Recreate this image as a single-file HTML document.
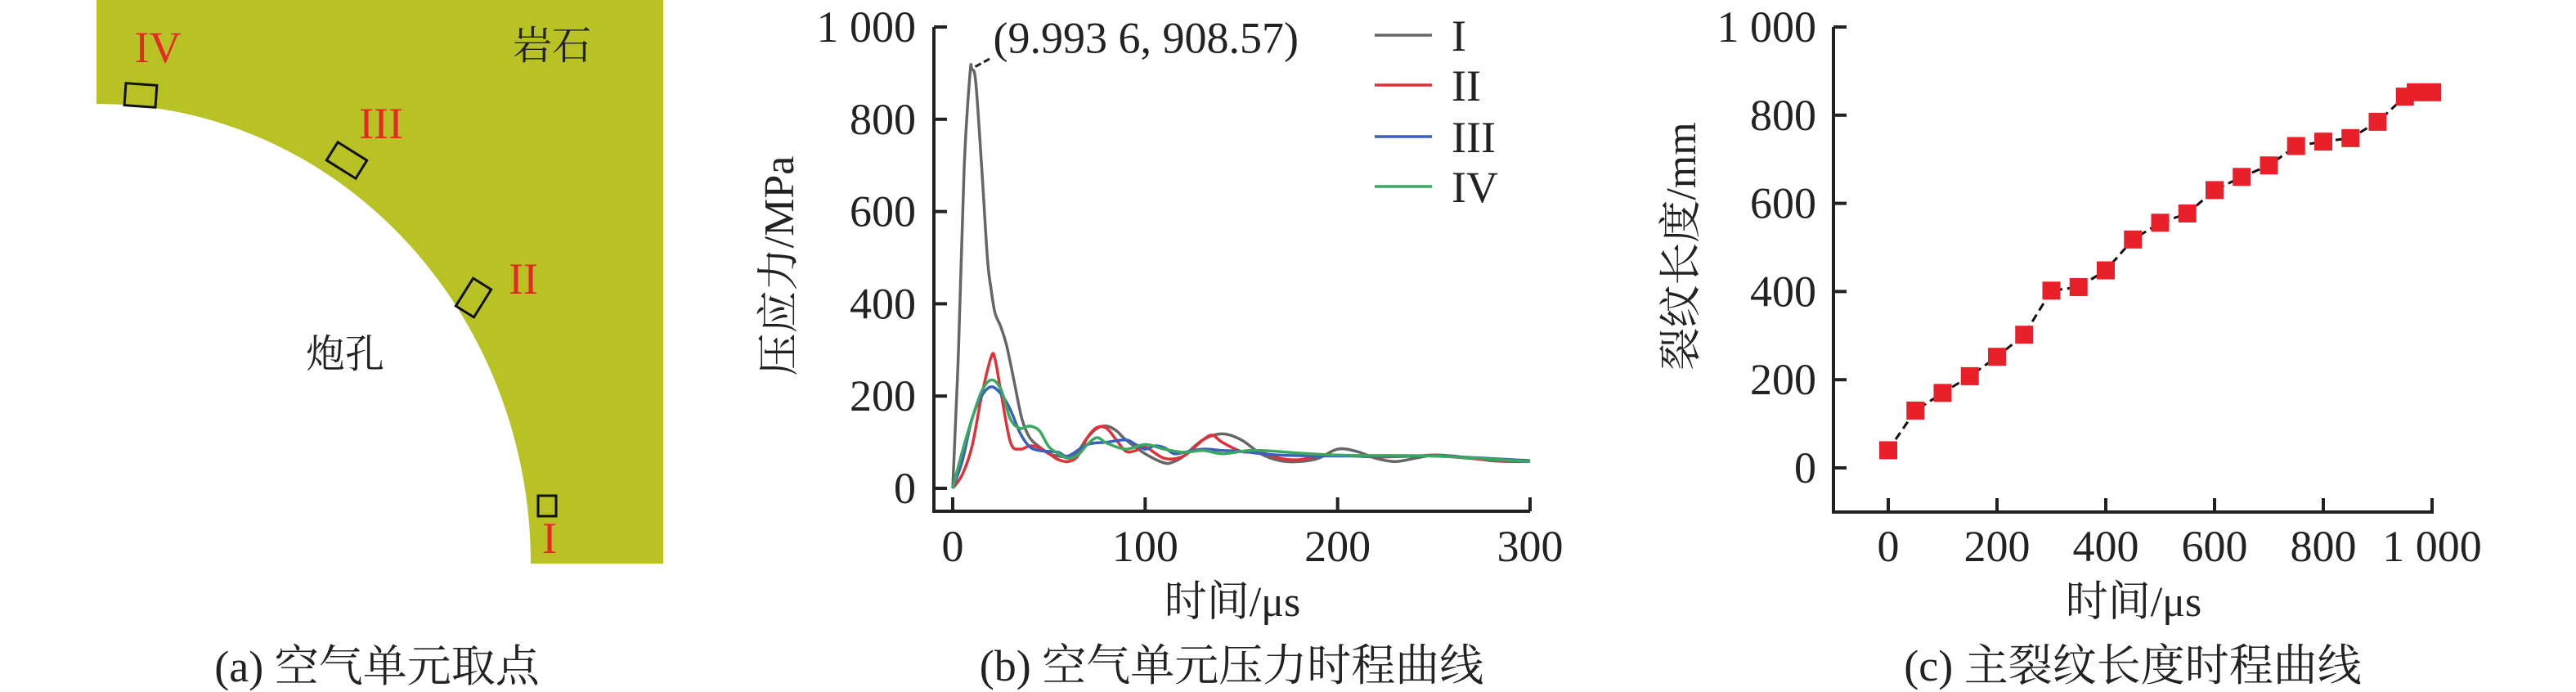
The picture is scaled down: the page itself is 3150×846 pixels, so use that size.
<!DOCTYPE html>
<html><head><meta charset="utf-8">
<style>
html,body{margin:0;padding:0;background:#fff;}
svg{display:block;font-family:"Liberation Serif","Noto Serif CJK SC",serif;}
</style></head>
<body>
<svg id="fig" width="3150" height="846" viewBox="0 0 3150 846" xmlns="http://www.w3.org/2000/svg">
<g>
  <rect x="118" y="0" width="693" height="689" fill="#b8c225"/>
  <path d="M118,127 A531,562 0 0 1 649,689 L118,689 Z" fill="#fff"/>
  <g fill="none" stroke="#111" stroke-width="3">
    <rect x="153" y="103" width="38" height="27" transform="rotate(4 172 116)"/>
    <rect x="403" y="183" width="42" height="26" transform="rotate(32 424 196)"/>
    <rect x="559" y="351" width="40" height="26" transform="rotate(-58 579 364)"/>
    <rect x="658" y="606" width="22" height="25"/>
  </g>
  <g fill="#e42a26" font-size="54" text-anchor="middle">
    <text x="193" y="76">IV</text>
    <text x="466" y="169">III</text>
    <text x="640" y="359">II</text>
    <text x="672" y="676">I</text>
  </g>
  <text x="675" y="72" font-size="48" text-anchor="middle" fill="#222">岩石</text>
  <text x="422" y="449" font-size="48" text-anchor="middle" fill="#222">炮孔</text>
  <text x="461" y="833" font-size="54" text-anchor="middle" fill="#222">(a) 空气单元取点</text>
</g>
<g id="pb"></g>
<g id="pc"></g>
</svg>
<script>
// ---- Panel b data ----
const bYTicks = [0, 200, 400, 600, 800, 1000];
const bYTickLabels = ["0", "200", "400", "600", "800", "1 000"];
const bXTicks = [0, 100, 200, 300];
const bXTickLabels = ["0", "100", "200", "300"];
const seriesNames = ["I", "II", "III", "IV"];
const tI = [0,3,6,9,10,12,15,18,20,22,25,28,32,36,40,45,50,55,60,65,70,75,80,85,90,100,110,115,120,130,140,150,160,170,180,190,200,210,220,230,240,250,260,270,280,290,300];
const vI = [0,300,700,900,908,880,700,500,430,380,350,310,230,150,110,90,75,70,68,80,110,130,135,125,105,75,55,58,70,105,118,105,75,60,58,65,85,80,65,58,65,72,70,65,60,58,58];
const tII = [0,5,10,15,20,22,25,30,35,40,45,50,55,60,65,70,75,80,85,90,95,100,110,120,130,135,140,150,160,170,180,190,200,220,240,250,260,280,300];
const vII = [0,30,90,200,285,280,210,100,85,92,88,75,62,58,70,110,132,130,105,80,82,90,65,70,105,115,100,80,78,65,62,70,72,68,70,72,68,62,58];
const tIII = [0,5,10,15,20,25,30,35,40,45,50,55,60,70,80,90,95,100,105,110,115,120,130,140,150,170,200,250,300];
const vIII = [0,60,150,200,220,205,170,120,90,82,80,78,70,95,100,105,95,85,92,88,75,78,85,82,80,72,70,70,60];
const tIV = [0,5,10,15,20,25,30,35,40,45,50,55,60,65,70,75,80,90,100,110,120,130,140,150,160,200,250,300];
const vIV = [0,80,150,210,235,215,150,130,135,125,90,75,65,72,95,110,98,85,95,85,78,82,75,80,82,72,70,58];
const peakX = 9.9936;
const peakY = 908.57;
// ---- Panel c data ----
const cTimes = [0,50,100,150,200,250,300,350,400,450,500,550,600,650,700,750,800,850,900,950,970,1000];
const cLengths = [40,130,170,208,252,302,402,410,448,518,556,577,630,660,686,730,740,748,785,842,852,852];
const cYTicks = [0, 200, 400, 600, 800, 1000];
const cYTickLabels = ["0", "200", "400", "600", "800", "1 000"];
const cXTicks = [0, 200, 400, 600, 800, 1000];
const cXTickLabels = ["0", "200", "400", "600", "800", "1 000"];

const NS = "http://www.w3.org/2000/svg";
function mk(parent, tag, attrs, txt){
  const e = document.createElementNS(NS, tag);
  for (const k in attrs) e.setAttribute(k, attrs[k]);
  if (txt !== undefined) e.textContent = txt;
  parent.appendChild(e);
  return e;
}
function smoothPath(pts){
  let d = "M" + pts[0][0].toFixed(1) + "," + pts[0][1].toFixed(1);
  for (let i = 0; i < pts.length - 1; i++){
    const p0 = pts[i-1] || pts[i], p1 = pts[i], p2 = pts[i+1], p3 = pts[i+2] || p2;
    const c1 = [p1[0] + (p2[0]-p0[0])/6, p1[1] + (p2[1]-p0[1])/6];
    const c2 = [p2[0] - (p3[0]-p1[0])/6, p2[1] - (p3[1]-p1[1])/6];
    d += " C" + c1[0].toFixed(1)+","+c1[1].toFixed(1)+" "+c2[0].toFixed(1)+","+c2[1].toFixed(1)+" "+p2[0].toFixed(1)+","+p2[1].toFixed(1);
  }
  return d;
}

(function(){
  const g = document.getElementById("pb");
  const bx = v => 1165 + v * (1871 - 1165) / 300;
  const by = v => 597 - v * (597 - 33) / 1000;
  const axis = mk(g, "path", {d: "M1142,33 L1142,625 L1871,625", fill: "none", stroke: "#222", "stroke-width": 4});
  
  
  bYTicks.forEach((v, i) => {
    const t = mk(g, "line", {x1: 1142, x2: 1158, y1: by(v), y2: by(v), stroke: "#222", "stroke-width": 4});
    
    
    const l = mk(g, "text", {x: 1120, y: by(v) + 18, "font-size": 54, "text-anchor": "end", fill: "#222"}, bYTickLabels[i]);
    
    
  });
  bXTicks.forEach((v, i) => {
    const t = mk(g, "line", {x1: bx(v), x2: bx(v), y1: 625, y2: 608, stroke: "#222", "stroke-width": 4});
    
    
    const l = mk(g, "text", {x: bx(v), y: 686, "font-size": 54, "text-anchor": "middle", fill: "#222"}, bXTickLabels[i]);
    
    
  });
  const xt = mk(g, "text", {x: 1507, y: 753, "font-size": 52, "text-anchor": "middle", fill: "#222"}, "时间/μs");
  
  
  const yt = mk(g, "text", {x: 0, y: 0, "font-size": 52, "text-anchor": "middle", fill: "#222", transform: "translate(970,325) rotate(-90)"}, "压应力/MPa");
  
  
  const cap = mk(g, "text", {x: 1506, y: 832, "font-size": 54, "text-anchor": "middle", fill: "#222"}, "(b) 空气单元压力时程曲线");
  
  

  const series = [[tI, vI], [tII, vII], [tIII, vIII], [tIV, vIV]];
  const colors = ["#666666", "#e0303a", "#3b5fbf", "#3aa860"];
  [0, 1, 2, 3].forEach(i => {
    const pts = series[i][0].map((t, k) => [bx(t), by(series[i][1][k])]);
    const p = mk(g, "path", {d: smoothPath(pts), fill: "none", stroke: colors[i], "stroke-width": 3.5, "stroke-linejoin": "round"});
    
    
    const ly = [43, 104, 167, 228][i];
    const ll = mk(g, "line", {x1: 1681, x2: 1751, y1: ly, y2: ly, stroke: colors[i], "stroke-width": 3.5});
    
    
    const lt = mk(g, "text", {x: 1775, y: ly + 19, "font-size": 54, fill: "#222"}, seriesNames[i]);
    
    
  });
  const px = bx(peakX), py = by(peakY);
  const lead = mk(g, "line", {x1: px + 4, y1: py - 3, x2: px + 24, y2: py - 14, stroke: "#222", "stroke-width": 3, "stroke-dasharray": "8 4"});
  
  
  const ann = mk(g, "text", {x: px + 26, y: py - 20, "font-size": 54, fill: "#222"}, "(9.993 6, 908.57)");
  
  
})();

(function(){
  const g = document.getElementById("pc");
  const cx = v => 2309 + v * (2974 - 2309) / 1000;
  const cy = v => 572 - v * (572 - 33) / 1000;
  const axis = mk(g, "path", {d: "M2242,33 L2242,626 L2976,626", fill: "none", stroke: "#222", "stroke-width": 4});
  
  
  cYTicks.forEach((v, i) => {
    const t = mk(g, "line", {x1: 2242, x2: 2258, y1: cy(v), y2: cy(v), stroke: "#222", "stroke-width": 4});
    
    
    const l = mk(g, "text", {x: 2221, y: cy(v) + 18, "font-size": 54, "text-anchor": "end", fill: "#222"}, cYTickLabels[i]);
    
    
  });
  cXTicks.forEach((v, i) => {
    const t = mk(g, "line", {x1: cx(v), x2: cx(v), y1: 626, y2: 609, stroke: "#222", "stroke-width": 4});
    
    
    const l = mk(g, "text", {x: cx(v), y: 686, "font-size": 54, "text-anchor": "middle", fill: "#222"}, cXTickLabels[i]);
    
    
  });
  const xt = mk(g, "text", {x: 2609, y: 753, "font-size": 52, "text-anchor": "middle", fill: "#222"}, "时间/μs");
  
  
  const yt = mk(g, "text", {x: 0, y: 0, "font-size": 52, "text-anchor": "middle", fill: "#222", transform: "translate(2073,301) rotate(-90)"}, "裂纹长度/mm");
  
  
  const cap = mk(g, "text", {x: 2608, y: 832, "font-size": 54, "text-anchor": "middle", fill: "#222"}, "(c) 主裂纹长度时程曲线");
  
  
  const d = cTimes.map((t, i) => (i ? "L" : "M") + cx(t).toFixed(1) + "," + cy(cLengths[i]).toFixed(1)).join(" ");
  const line = mk(g, "path", {d: d, fill: "none", stroke: "#111", "stroke-width": 3, "stroke-dasharray": "10 6"});
  
  
  cTimes.forEach((t, i) => {
    const m = mk(g, "rect", {x: cx(t) - 11, y: cy(cLengths[i]) - 11, width: 22, height: 22, fill: "#e8202a"});
    
    
  });
})();
</script>
</body></html>
